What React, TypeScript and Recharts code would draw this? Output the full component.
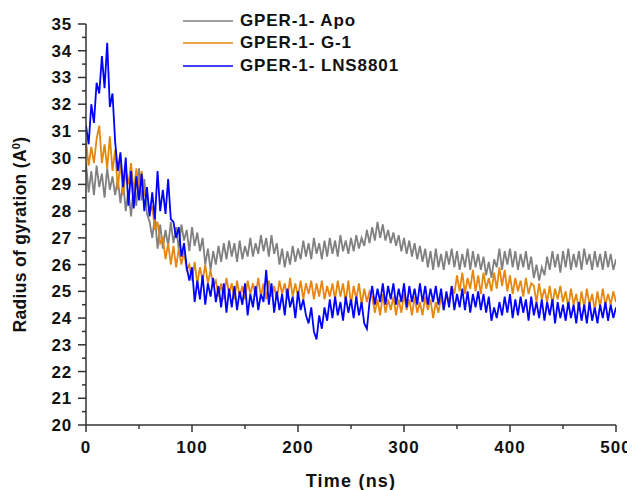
import React from 'react';
import { LineChart, Line, XAxis, YAxis, Legend } from 'recharts';

// Radius of gyration (Å) sampled every 2.5 ns from 0 to 500 ns
const apoValues = [
  29.8, 28.7, 29.5, 28.6, 29.7, 28.9, 29.4, 28.5, 29.6, 28.8, 29.3, 28.6, 29.2,
  28.3, 29.1, 28.0, 28.8, 27.8, 29.0, 28.2, 29.6, 28.4, 29.2, 27.9,
  27.6, 27.0, 27.8, 26.6,
  27.5, 26.6, 27.3, 26.7, 27.6, 26.8, 27.4, 26.6, 27.5, 26.9, 27.3, 26.5, 27.4, 26.7, 27.2, 26.5, 27.0,
  26.0, 26.6, 25.8, 26.5, 26.0, 26.7, 26.1, 26.8,
  26.2, 26.9, 26.3, 26.8, 26.1, 26.9, 26.2, 26.7, 26.3, 27.0, 26.3, 26.8,
  26.4, 27.1, 26.5, 27.0, 26.3, 27.1, 26.4, 26.8,
  26.0, 26.6, 25.9, 26.5, 26.0, 26.7, 26.1, 26.6,
  26.2, 26.9, 26.3, 26.8, 26.2, 27.0, 26.4, 26.8, 26.2, 26.9, 26.3, 27.0, 26.4, 26.9, 26.3, 27.1, 26.5, 26.9, 26.4, 27.0, 26.5, 27.1, 26.6, 27.0,
  26.7, 27.3, 26.8, 27.4, 26.9, 27.6, 27.0, 27.5, 26.9, 27.3,
  26.8, 27.2, 26.7, 27.1, 26.5, 27.0, 26.4, 26.9, 26.3, 26.8, 26.2, 26.7, 26.1, 26.6,
  25.9, 26.5, 25.8, 26.6, 25.9, 26.4, 25.8, 26.5, 26.0, 26.6, 25.9, 26.5, 25.8, 26.4, 25.9, 26.6, 25.8, 26.5, 25.9, 26.4, 25.8, 26.3,
  25.6, 26.1, 25.5, 26.2,
  25.9, 26.6, 25.8, 26.5, 26.0, 26.6, 25.9, 26.5, 25.8, 26.4, 25.9, 26.5, 25.8, 26.3,
  25.5, 26.0, 25.4, 25.9, 25.6,
  26.3, 25.8, 26.5, 25.9, 26.4, 25.7, 26.5, 25.9, 26.6, 25.8, 26.4, 25.9, 26.5, 25.8, 26.6, 26.0, 26.4, 25.8, 26.5, 25.9, 26.4, 25.8, 26.5, 25.9, 26.4, 25.8, 26.2,
];

const g1Values = [
  30.6, 29.7, 30.4, 29.8, 30.7, 31.2, 29.8, 30.5, 29.6, 30.8,
  29.5, 30.3, 28.8, 29.9, 28.6, 29.5,
  29.0, 29.8, 28.7, 29.6, 28.8, 29.5, 28.6,
  28.7, 27.9, 28.2, 27.3, 27.6, 26.8,
  27.0, 26.2, 26.8, 26.0, 26.7, 25.9, 26.6, 26.0, 26.5, 25.8,
  26.0, 25.4, 26.1, 25.3, 25.9, 25.4, 26.0, 25.3, 25.8, 25.2,
  25.4, 24.8, 25.3, 24.7, 25.5, 24.9, 25.3, 24.7, 25.4, 24.8,
  25.2, 24.7, 25.4, 24.9, 25.3, 24.8, 25.5, 24.8, 25.3, 24.7,
  25.4, 24.8, 25.2, 24.7, 25.4, 24.9, 25.3, 24.7, 25.5, 24.8,
  25.3, 24.8, 25.4, 24.7, 25.3, 24.9, 25.4, 24.7, 25.3, 24.8,
  25.4, 24.7, 25.2, 24.8, 25.3, 24.7, 25.4, 24.8,
  25.3, 24.6, 25.4, 24.5, 25.2, 24.7, 25.3, 24.5, 25.1, 24.6, 25.0,
  24.8, 24.2, 24.7, 24.1, 24.9, 24.2, 24.7, 24.3, 24.8, 24.1,
  24.7, 24.2, 24.9, 24.3, 24.7, 24.1, 24.8, 24.2, 24.6, 24.1,
  24.8, 24.3, 24.7, 24.0, 24.6, 24.2, 24.8, 24.3,
  24.9, 24.6, 25.2, 24.9,
  25.6, 25.0, 25.7, 24.9, 25.5, 25.1, 25.8, 25.0, 25.6, 24.9,
  25.7, 25.1, 25.5, 25.0, 25.7, 25.1, 25.9, 25.2, 25.8, 25.0,
  25.6, 24.9, 25.5, 25.0, 25.4, 24.8, 25.5, 24.9, 25.3,
  25.2, 24.6, 25.3, 24.7, 25.1, 24.6, 25.2, 24.5, 25.1, 24.7, 25.2, 24.6,
  25.0, 24.4, 25.1, 24.5, 24.9, 24.3, 25.0, 24.4, 25.1, 24.5, 24.9, 24.3, 25.0, 24.4, 25.1, 24.5, 24.9, 24.5, 25.0, 24.6,
];

const lnsValues = [
  31.2, 30.5, 32.0, 31.3, 32.8,
  32.4, 33.8, 32.6, 34.3,
  31.9, 32.4, 30.6,
  29.5, 30.2, 28.9, 30.0,
  28.2, 29.5, 28.1, 29.3, 28.4, 29.4, 28.0,
  28.9, 27.8, 28.7, 27.7, 29.5, 28.0, 28.8, 27.9, 29.2, 27.7,
  27.6, 27.0, 27.4, 26.3, 26.8, 25.9,
  25.4, 25.9,
  24.6, 25.4, 24.7, 25.6, 24.5, 25.3, 24.8, 25.5, 24.6, 25.2, 24.4, 25.3,
  24.2, 25.1, 24.4, 25.2, 24.3, 25.0, 24.5, 25.3, 24.1, 24.9,
  24.4, 25.2, 24.3, 24.9, 24.6, 25.8, 24.5, 25.3, 24.2, 25.0,
  24.3, 24.9, 24.1, 25.1, 24.4, 24.8, 24.0, 25.0, 24.3, 24.7, 24.1,
  23.8, 24.4, 23.5, 23.2, 24.1, 23.6, 24.4,
  23.9, 24.7, 24.0, 24.8, 24.1, 24.6, 23.9, 24.8, 24.2, 24.7, 24.0, 24.8, 24.1, 24.6, 23.8, 23.6,
  24.6, 25.2, 24.5, 25.1, 24.6, 25.3, 24.5, 25.2, 24.7, 25.3,
  24.5, 25.1, 24.6, 25.3, 24.4, 25.2, 24.6, 25.1, 24.5, 25.3,
  24.6, 25.2, 24.5, 25.1, 24.6, 25.2, 24.5,
  25.1, 24.3, 25.0, 24.4, 25.2, 24.3, 24.9, 24.4, 25.1, 24.3, 25.0, 24.2, 24.9, 24.4, 25.0, 24.3, 24.9, 24.2, 24.8,
  23.9, 24.4, 24.0, 24.6,
  24.1, 24.8, 24.2, 24.9, 24.0, 24.7, 24.1, 24.8, 24.2, 24.7,
  23.9, 24.8, 24.1, 24.6, 24.0, 24.7, 23.9, 24.6, 24.1, 24.7,
  23.8, 24.6, 24.0, 24.5, 23.9, 24.6, 24.0, 24.5, 23.8, 24.6,
  23.9, 24.5, 23.8, 24.6, 23.9, 24.4, 23.8, 24.5, 24.0, 24.6, 23.9, 24.5, 24.0, 24.4,
];

const seriesNames = ['GPER-1- Apo', 'GPER-1- G-1', 'GPER-1- LNS8801'];
const seriesColors = ['#808080', '#e5870f', '#0000ff'];
const timeStart = 0;
const timeEnd = 500;
const xTickLabels = [0, 100, 200, 300, 400, 500];
const yTickLabels = [20, 21, 22, 23, 24, 25, 26, 27, 28, 29, 30, 31, 32, 33, 34, 35];

const toSeries = (values: number[]) =>
  values.map((v, i) => ({ t: timeStart + (i * (timeEnd - timeStart)) / (values.length - 1), v }));

const seriesData = [toSeries(apoValues), toSeries(g1Values), toSeries(lnsValues)];

// major + minor tick positions
const xTicks: number[] = [];
for (let i = 0; i < xTickLabels.length; i++) {
  xTicks.push(xTickLabels[i]);
  if (i < xTickLabels.length - 1) xTicks.push((xTickLabels[i] + xTickLabels[i + 1]) / 2);
}
const yTicks: number[] = [];
for (let i = 0; i < yTickLabels.length; i++) {
  yTicks.push(yTickLabels[i]);
  if (i < yTickLabels.length - 1) yTicks.push((yTickLabels[i] + yTickLabels[i + 1]) / 2);
}

const FONT = '"Liberation Sans", Arial, sans-serif';
const AXIS_COLOR = '#333333';

const YTick = (props: any) => {
  const { x, y, payload } = props;
  const major = yTickLabels.includes(payload.value);
  return (
    <g>
      <line x1={x} x2={x - (major ? 8 : 4)} y1={y} y2={y} stroke={AXIS_COLOR} strokeWidth={1.5} />
      {major && (
        <text x={x - 14} y={y + 6} textAnchor="end" fontFamily={FONT} fontWeight="bold" fontSize={17} letterSpacing={0.8} fill="#111">
          {payload.value}
        </text>
      )}
    </g>
  );
};

const XTick = (props: any) => {
  const { x, y, payload } = props;
  const major = xTickLabels.includes(payload.value);
  return (
    <g>
      <line x1={x} x2={x} y1={y} y2={y + (major ? 7 : 4)} stroke={AXIS_COLOR} strokeWidth={1.5} />
      {major && (
        <text x={x} y={y + 28} textAnchor="middle" fontFamily={FONT} fontWeight="bold" fontSize={17} letterSpacing={1} fill="#111">
          {payload.value}
        </text>
      )}
    </g>
  );
};

const LegendContent = () => (
  <div style={{ fontFamily: FONT }}>
    {seriesNames.map((name, i) => (
      <div key={name} style={{ display: 'flex', alignItems: 'center', height: 22.3 }}>
        <svg width={50} height={4} style={{ marginRight: 7 }}>
          <line x1={0} x2={50} y1={2} y2={2} stroke={seriesColors[i]} strokeWidth={1.6} />
        </svg>
        <span style={{ fontWeight: 'bold', fontSize: 17, letterSpacing: 0.9, color: '#111', whiteSpace: 'nowrap' }}>{name}</span>
      </div>
    ))}
  </div>
);

export default function App() {
  return (
    <LineChart width={627} height={482} margin={{ top: 16, right: 19, bottom: 25, left: 8 }}>
      <XAxis
        type="number"
        dataKey="t"
        domain={[timeStart, timeEnd]}
        ticks={xTicks}
        interval={0}
        height={40}
        tickSize={0}
        tickMargin={0}
        tickLine={false}
        axisLine={{ stroke: AXIS_COLOR, strokeWidth: 1.5 }}
        tick={<XTick />}
        allowDataOverflow
        label={{
          content: (p: any) => {
            const vb = p.viewBox;
            return (
              <text x={vb.x + vb.width / 2} y={vb.y + 62} textAnchor="middle" fontFamily={FONT} fontWeight="bold" fontSize={18} letterSpacing={1.2} fill="#111">
                Time (ns)
              </text>
            );
          },
        }}
      />
      <YAxis
        type="number"
        dataKey="v"
        domain={[20, 35]}
        ticks={yTicks}
        interval={0}
        width={70}
        tickSize={0}
        tickMargin={0}
        tickLine={false}
        axisLine={{ stroke: AXIS_COLOR, strokeWidth: 1.5 }}
        tick={<YTick />}
        allowDataOverflow
        label={{
          content: (p: any) => {
            const vb = p.viewBox;
            const cx = 18;
            const cy = vb.y + vb.height / 2 + 10;
            return (
              <text x={cx} y={cy} transform={`rotate(-90, ${cx}, ${cy})`} textAnchor="middle" fontFamily={FONT} fontWeight="bold" fontSize={17.5} letterSpacing={0.3} fill="#111">
                Radius of gyration (A
                <tspan dy={-6} fontSize={11}>0</tspan>
                <tspan dy={6}>)</tspan>
              </text>
            );
          },
        }}
      />
      {seriesData.map((d, i) => (
        <Line
          key={seriesNames[i]}
          data={d}
          dataKey="v"
          name={seriesNames[i]}
          type="linear"
          stroke={seriesColors[i]}
          strokeWidth={1.8}
          dot={false}
          activeDot={false}
          isAnimationActive={false}
        />
      ))}
      <Legend
        layout="vertical"
        align="center"
        verticalAlign="middle"
        content={<LegendContent />}
        wrapperStyle={{ top: 2, left: 175, width: 'auto', height: 'auto' }}
      />
    </LineChart>
  );
}
